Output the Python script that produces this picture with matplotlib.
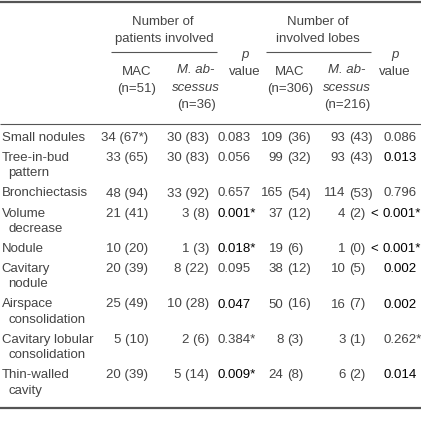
import matplotlib.pyplot as plt

# ---- table data ----
row_labels = ["Small nodules", "Tree-in-bud\npattern", "Bronchiectasis", "Volume\ndecrease",
              "Nodule", "Cavitary\nnodule", "Airspace\nconsolidation",
              "Cavitary lobular\nconsolidation", "Thin-walled\ncavity"]
mac_patients = ["34 (67*)", "33 (65)", "48 (94)", "21 (41)", "10 (20)", "20 (39)", "25 (49)", "5 (10)", "20 (39)"]
abs_patients = ["30 (83)", "30 (83)", "33 (92)", "3 (8)", "1 (3)", "8 (22)", "10 (28)", "2 (6)", "5 (14)"]
p_patients = ["0.083", "0.056", "0.657", "0.001*", "0.018*", "0.095", "0.047", "0.384*", "0.009*"]
p_patients_bold = [False, False, False, True, True, False, True, False, True]
mac_lobes = ["109 (36)", "99 (32)", "165 (54)", "37 (12)", "19 (6)", "38 (12)", "50 (16)", "8 (3)", "24 (8)"]
abs_lobes = ["93 (43)", "93 (43)", "114 (53)", "4 (2)", "1 (0)", "10 (5)", "16 (7)", "3 (1)", "6 (2)"]
p_lobes = ["0.086", "0.013", "0.796", "< 0.001*", "< 0.001*", "0.002", "0.002", "0.262*", "0.014"]
p_lobes_bold = [False, True, False, True, True, True, True, False, True]

plt.rcParams['font.family'] = ['Liberation Sans', 'DejaVu Sans']
FS = 9.5
GRAY = '#444444'
DARK = '#000000'
LINE = '#555555'

fig = plt.figure(figsize=(4.21, 4.26), dpi=100)
ax = fig.add_axes([0, 0, 1, 1])
ax.set_xlim(0, 421)
ax.set_ylim(426, 0)
ax.axis('off')


def txt(x, y, s, ha='left', bold=False, style='normal'):
    ax.text(x, y, s, ha=ha, va='center', fontsize=FS, fontstyle=style,
            color=DARK if bold else GRAY)


def split_paren(x, y, s):
    # number right of x, "(..)" left of x
    num, rest = s.split(' ', 1)
    txt(x - 3.5, y, num, ha='right')
    txt(x, y, rest, ha='left')


# rules
ax.hlines(1.5, 0, 421, color=LINE, lw=1.6)
ax.hlines(123.5, 0, 421, color=LINE, lw=0.8)
ax.hlines(407.5, 0, 421, color=LINE, lw=1.6)
ax.hlines(52, 111, 217, color=LINE, lw=0.8)
ax.hlines(52, 266, 371, color=LINE, lw=0.8)

# header
txt(163, 22, "Number of", ha='center')
txt(164, 39, "patients involved", ha='center')
txt(318, 22, "Number of", ha='center')
txt(318, 39, "involved lobes", ha='center')
for xc in (245, 395):
    txt(xc, 55, "p", ha='center', style='italic')
    txt(xc, 72, "value", ha='center')
for xc in (137, 290):
    txt(xc, 72, "MAC", ha='center')
n_labels = ["(n=51)", "(n=36)", "(n=306)", "(n=216)"]
txt(137, 89, n_labels[0], ha='center')
txt(290, 89, n_labels[2], ha='center')
for xc, nl in ((196, n_labels[1]), (347, n_labels[3])):
    txt(xc, 70, "M. ab-", ha='center', style='italic')
    txt(xc, 88, "scessus", ha='center', style='italic')
    txt(xc, 105, nl, ha='center')

# body
y = 138
LH = 15.3
for i, lab in enumerate(row_labels):
    lines = lab.split('\n')
    txt(1.5, y, lines[0])
    for k, extra in enumerate(lines[1:], start=1):
        txt(8.5, y + k * LH, extra)
    txt(148.5, y, mac_patients[i], ha='right')
    txt(209, y, abs_patients[i], ha='right')
    txt(217, y, p_patients[i], bold=p_patients_bold[i])
    split_paren(287, y, mac_lobes[i])
    split_paren(349, y, abs_lobes[i])
    pv = p_lobes[i]
    if pv.startswith('<'):
        txt(378.5, y, "<", ha='right', bold=p_lobes_bold[i])
        txt(382.5, y, pv[2:], bold=p_lobes_bold[i])
    else:
        txt(383, y, pv, bold=p_lobes_bold[i])
    y += LH * len(lines) + 4.8

fig.savefig('out.png', dpi=100)
